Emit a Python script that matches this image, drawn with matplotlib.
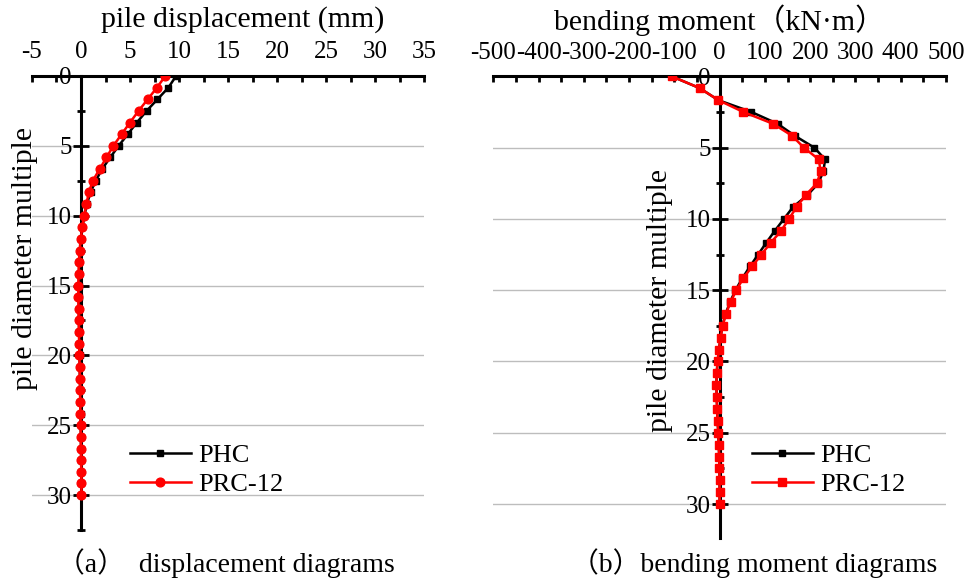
import matplotlib
matplotlib.use("Agg")
import matplotlib.pyplot as plt
from matplotlib.ticker import MultipleLocator

plt.rcParams['font.family'] = ['Liberation Serif', 'Noto Sans CJK SC', 'DejaVu Sans']

# depth in pile diameter multiples
depth = [0.00, 0.83, 1.67, 2.50, 3.33, 4.17, 5.00, 5.83, 6.67, 7.50, 8.33, 9.17,
         10.00, 10.83, 11.67, 12.50, 13.33, 14.17, 15.00, 15.83, 16.67, 17.50,
         18.33, 19.17, 20.00, 20.83, 21.67, 22.50, 23.33, 24.17, 25.00, 25.83,
         26.67, 27.50, 28.33, 29.17, 30.00]

# (a) pile displacement (mm)
disp_phc = [9.7, 8.92, 7.8, 6.69, 5.7, 4.77, 3.84, 2.98, 2.15, 1.5, 0.97, 0.6,
            0.35, 0.15, 0.0, -0.1, -0.17, -0.21, -0.23, -0.23, -0.23, -0.21,
            -0.19, -0.17, -0.15, -0.13, -0.11, -0.09, -0.07, -0.05, -0.03, -0.01,
            0.0, 0.02, 0.03, 0.04, 0.05]
disp_prc = [8.6, 7.75, 6.8, 5.87, 5.0, 4.14, 3.3, 2.6, 1.9, 1.2, 0.8, 0.55,
            0.32, 0.12, -0.03, -0.15, -0.22, -0.25, -0.26, -0.26, -0.25, -0.23,
            -0.21, -0.19, -0.16, -0.14, -0.12, -0.1, -0.08, -0.06, -0.04, -0.02,
            0.0, 0.01, 0.03, 0.04, 0.05]

# (b) bending moment (kN·m)
mom_phc = [-106, -44, -3, 70, 128, 166, 209, 233, 229, 218, 194, 162, 142, 122,
           103, 85, 67, 50, 35, 23, 13, 6, 2, -1.5, -4.5, -6.5, -7, -6.5, -5.5,
           -4.5, -3, -2, -1, -0.5, 0, 0, 0]
mom_prc = [-106, -44, -3, 52, 118, 160, 186, 219, 223, 215, 190, 170, 153, 136,
           113, 92, 72, 52, 37, 24, 14, 6.5, 2, -1.5, -4.5, -6.5, -7, -6.5, -5.5,
           -4.5, -3, -2, -1, -0.5, 0, 0, 0]

series_names = ['PHC', 'PRC-12']
disp_ticks = [-5, 0, 5, 10, 15, 20, 25, 30, 35]
mom_ticks = [-500, -400, -300, -200, -100, 0, 100, 200, 300, 400, 500]
depth_ticks = [0, 5, 10, 15, 20, 25, 30]

W, H = 969, 584
fig = plt.figure(figsize=(W / 100, H / 100), dpi=100)

def px_ax(x0, y0, x1, y1):
    return fig.add_axes([x0 / W, 1 - y1 / H, (x1 - x0) / W, (y1 - y0) / H])

ax1 = px_ax(32, 76, 424, 530)
ax2 = px_ax(493.3, 76.3, 946, 538.3)

TICK_FS = 18
LBL_FS = 21.5

def style(ax, xlim, ylim, xmin, xticks):
    ax.set_xlim(*xlim)
    ax.set_ylim(*ylim)
    for s in ['bottom', 'right']:
        ax.spines[s].set_visible(False)
    ax.spines['left'].set_position(('data', 0))
    ax.spines['left'].set_linewidth(2.2)
    ax.spines['top'].set_linewidth(2.2)
    ax.xaxis.tick_top()
    ax.set_xticks(xticks)
    ax.set_xticklabels([str(t) for t in xticks])
    ax.xaxis.set_minor_locator(MultipleLocator(xmin))
    ax.set_yticks(depth_ticks)
    ax.yaxis.set_minor_locator(MultipleLocator(2.5))
    ax.tick_params(axis='x', which='both', direction='in', length=4.5, width=2,
                   labelsize=TICK_FS, pad=9)
    ax.tick_params(axis='y', which='major', direction='inout', length=11, width=2,
                   labelsize=TICK_FS, pad=1)
    ax.tick_params(axis='y', which='minor', direction='inout', length=6, width=2)
    ax.grid(axis='y', which='major', color='#bdbdbd', linewidth=1)
    ax.set_axisbelow(True)
    ax.patch.set_alpha(0)

# (a)
ax1.plot(disp_phc, depth, color='black', lw=1.8, marker='s', ms=4.6, label=series_names[0], zorder=3)
ax1.plot(disp_prc, depth, color='#ff0000', lw=1.8, marker='o', ms=6.3, label=series_names[1], zorder=4)
style(ax1, (-5, 35), (32.5, 0), 2.5, disp_ticks)

# (b)
ax2.plot(mom_phc, depth, color='black', lw=1.8, marker='s', ms=4.8, label=series_names[0], zorder=3)
ax2.plot(mom_prc, depth, color='#ff0000', lw=1.8, marker='s', ms=5.2, label=series_names[1], zorder=4)
style(ax2, (-500, 500), (32.4, 0), 50, mom_ticks)

# legends
for ax, x0 in ((ax1, 138), (ax2, 760)):
    ax.legend(loc='upper left', bbox_to_anchor=((x0 - 8) / W, 1 - 444 / H),
              bbox_transform=fig.transFigure, frameon=False,
              fontsize=19, handlelength=2.3, handletextpad=0.3,
              labelspacing=0.2, borderaxespad=0, borderpad=0)

# axis titles
fig.text(243 / W, 1 - 20 / H, 'pile displacement (mm)', ha='center', va='center', fontsize=LBL_FS)
fig.text(719 / W, 1 - 20 / H, 'bending moment（kN·m）', ha='center', va='center', fontsize=LBL_FS)
fig.text(25 / W, 1 - 258 / H, 'pile diameter multiple', ha='center', va='center',
         rotation=90, fontsize=LBL_FS)
fig.text(660 / W, 1 - 300 / H, 'pile diameter multiple', ha='center', va='center',
         rotation=90, fontsize=LBL_FS)

# captions
fig.text(226 / W, 1 - 563 / H, '（a）  displacement diagrams', ha='center', va='center', fontsize=20)
fig.text(754 / W, 1 - 563 / H, '（b）bending moment diagrams', ha='center', va='center', fontsize=20)

fig.savefig('out.png', dpi=100)
